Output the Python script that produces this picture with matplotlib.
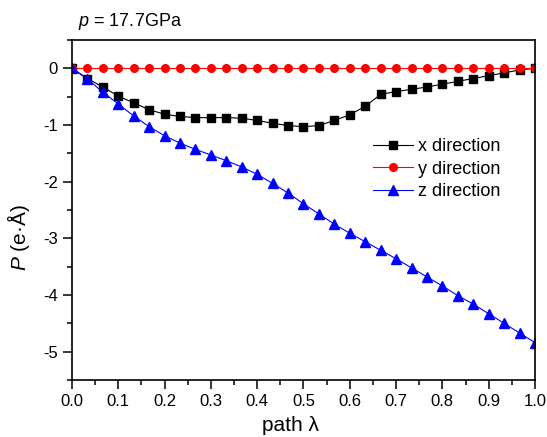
import numpy as np
import matplotlib
matplotlib.use("Agg")
import matplotlib.pyplot as plt

plt.rcParams['font.family'] = ['Liberation Sans', 'DejaVu Sans']
plt.rcParams['mathtext.fontset'] = 'custom'
plt.rcParams['mathtext.rm'] = 'Liberation Sans'
plt.rcParams['mathtext.it'] = 'Liberation Sans:italic'
plt.rcParams['axes.unicode_minus'] = False

# --- data: polarization along the path (31 images) ---
lam = np.linspace(0, 1, 31)
p_x = [0.00, -0.18, -0.33, -0.49, -0.61, -0.73, -0.81, -0.85, -0.87, -0.87,
       -0.87, -0.88, -0.92, -0.97, -1.01, -1.03, -1.01, -0.92, -0.82, -0.67,
       -0.46, -0.41, -0.37, -0.33, -0.28, -0.23, -0.18, -0.13, -0.08, -0.03,
       0.00]
p_y = [0.0] * 31
p_z = [0.00, -0.19, -0.42, -0.63, -0.84, -1.03, -1.19, -1.32, -1.43, -1.53,
       -1.63, -1.74, -1.87, -2.03, -2.20, -2.39, -2.57, -2.75, -2.91, -3.06,
       -3.21, -3.36, -3.52, -3.68, -3.84, -4.01, -4.16, -4.33, -4.50, -4.67,
       -4.84]
labels = ["x direction", "y direction", "z direction"]

fig = plt.figure(figsize=(5.47, 4.37), dpi=100)
ax = fig.add_axes([0.1316, 0.1304, 0.8464, 0.7781])

ax.plot(lam, p_x, '-s', color='k', lw=0.8, ms=5.5, label=labels[0])
ax.plot(lam, p_y, '-o', color='#ff0000', mec='#ff0000', lw=0.8, ms=5.5, label=labels[1])
ax.plot(lam, p_z, '-^', color='#0000ff', mec='#0000ff', lw=0.8, ms=6.5, label=labels[2])

ax.set_xlim(0, 1.0)
ax.set_ylim(-5.5, 0.5)
ax.set_xticks(np.arange(0, 1.01, 0.1))
ax.set_xticks(np.arange(0.05, 1.0, 0.1), minor=True)
ax.set_yticks(np.arange(-5, 0.5, 1))
ax.set_yticks(np.arange(-5.5, 0.6, 0.5), minor=True)
ax.xaxis.set_major_formatter(matplotlib.ticker.FormatStrFormatter('%.1f'))
ax.yaxis.set_major_formatter(matplotlib.ticker.FormatStrFormatter('%d'))

ax.tick_params(which='major', direction='out', length=6.5, width=1.1, labelsize=12)
ax.tick_params(which='minor', direction='out', length=3.5, width=1.1)
for s in ax.spines.values():
    s.set_linewidth(1.2)

ax.set_xlabel("path λ", fontsize=15)
ax.xaxis.set_label_coords(0.471, -0.106)
ax.set_ylabel("$\\it{P}$ (e·Å)", fontsize=15)
ax.yaxis.set_label_coords(-0.086, 0.418)

fig.text(78 / 547, 1 - 22 / 437, "$p$ = 17.7GPa", fontsize=13, va='center', ha='left')

ax.legend(loc='upper left', bbox_to_anchor=(0.65, 0.711), frameon=False,
          fontsize=13, handlelength=2.2, handletextpad=0.3, labelspacing=0.3,
          borderpad=0, borderaxespad=0)

fig.savefig("out.png", dpi=100)
